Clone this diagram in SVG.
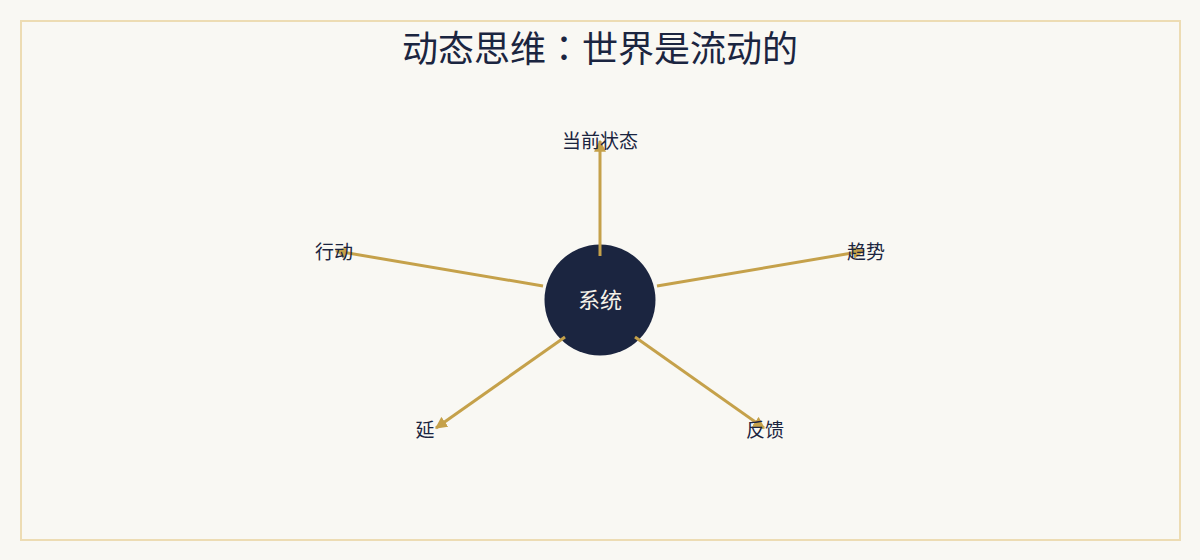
<svg xmlns="http://www.w3.org/2000/svg" width="1200" height="560" viewBox="0 0 1200 560">
<style>
.t{font-family:"Noto Sans CJK SC","Noto Sans",sans-serif;fill:#1b2540}
.title{font-family:"Noto Sans CJK JP","Noto Sans CJK SC",sans-serif}
.lbl{font-size:19px;text-anchor:middle;dominant-baseline:central}
.c{stroke:#c5a14a;stroke-width:3;fill:none;marker-end:url(#ah)}
</style>
<defs>
<marker id="ah" viewBox="0 0 10 10" refX="9" refY="5" markerWidth="4" markerHeight="4" orient="auto" markerUnits="strokeWidth">
<path d="M0,0 L10,5 L0,10 Z" fill="#c5a14a"/>
</marker>
</defs>
<rect x="0" y="0" width="1200" height="560" fill="#f9f8f3"/>
<rect x="21" y="21" width="1159" height="519" fill="none" stroke="#eddcb3" stroke-width="2"/>
<text class="t title" x="600" y="62" font-size="36" text-anchor="middle">动态思维：世界是流动的</text>
<g id="center">
<circle cx="600" cy="300" r="55.5" fill="#1b2540"/>
<text class="t lbl" x="600" y="298" style="fill:#f4f1e8;font-size:22px">系统</text>
</g>
<g id="connectors">
<line class="c" x1="600" y1="256" x2="600" y2="141"/>
<line class="c" x1="543" y1="286" x2="336" y2="251"/>
<line class="c" x1="657" y1="286" x2="864" y2="251"/>
<line class="c" x1="565" y1="337" x2="436" y2="428"/>
<line class="c" x1="635" y1="337" x2="764" y2="428"/>
</g>
<g id="n-current"><text class="t lbl" x="600" y="139">当前状态</text></g>
<g id="n-action"><text class="t lbl" x="334" y="250">行动</text></g>
<g id="n-trend"><text class="t lbl" x="866" y="250">趋势</text></g>
<g id="n-delay"><text class="t lbl" x="425" y="428">延</text></g>
<g id="n-feedback"><text class="t lbl" x="765" y="428">反馈</text></g>
</svg>
